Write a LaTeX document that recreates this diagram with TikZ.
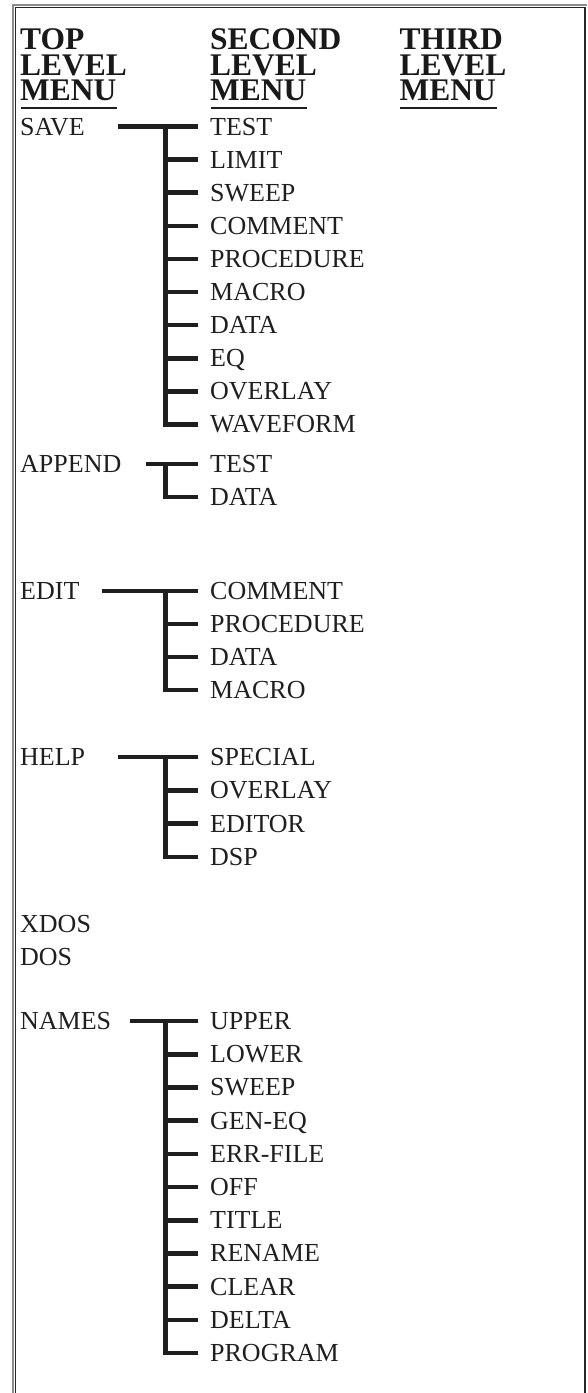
\documentclass[tikz,border=0pt]{standalone}
\usepackage{fontspec}
\setmainfont{Liberation Serif}
\begin{document}
\begin{tikzpicture}[x=1pt,y=-1pt,
  conn/.style={line width=4.6pt, draw=black!88, line cap=butt, line join=miter},
  lbl/.style={anchor=west, inner sep=0pt, text height=17pt, text depth=0pt, font=\fontsize{26pt}{30pt}\selectfont, text=black!88},
  hdr/.style={anchor=base west, inner sep=0pt, text height=20.5pt, text depth=0pt, font=\fontsize{31.5pt}{32pt}\selectfont\bfseries, text=black!90},
  hrule/.style={line width=1.8pt, draw=black!88},
  outerframe/.style={line width=2pt, draw=black!45},
  innerframe/.style={line width=1.2pt, draw=black!85}]
\useasboundingbox (0,0) rectangle (587,1393);
% frame
\draw[outerframe] (13,1393) -- (13,4.6) -- (587,4.6);
\draw[innerframe] (15.6,1393) -- (15.6,7.2) -- (584.9,7.2) -- (584.9,1393);
% headers
\foreach \x/\w/\n in {20/TOP/h1, 210/SECOND/h2, 399.5/THIRD/h3} {
  \node[hdr] (\n a) at (\x,49) {\w};
  \node[hdr] (\n b) at (\x,75) {LEVEL};
  \node[hdr] (\n c) at (\x,100.5) {MENU};
}
\draw[hrule] (20.5,108) -- (117,108);
\draw[hrule] (210.5,108) -- (307,108);
\draw[hrule] (400,108) -- (496.5,108);
% helper coordinates
\coordinate (bx) at (165.5,0);
\coordinate (tx) at (198,0);
% top level
\node[lbl] (sv) at (20,126.5) {SAVE};
\node[lbl] (ap) at (20,464) {APPEND};
\node[lbl] (ed) at (20,591) {EDIT};
\node[lbl] (hp) at (20,757) {HELP};
\node[lbl] (xd) at (20,923.5) {XDOS};
\node[lbl] (ds) at (20,956.5) {DOS};
\node[lbl] (nm) at (20,1021) {NAMES};
\coordinate (ssv) at (118,126.5);
\coordinate (sap) at (146,464);
\coordinate (sed) at (102,591);
\coordinate (shp) at (118,757);
\coordinate (snm) at (130,1021);
% SAVE group
\foreach \t [count=\i] in {TEST,LIMIT,SWEEP,COMMENT,PROCEDURE,MACRO,DATA,EQ,OVERLAY,WAVEFORM}
  \node[lbl] (a\i) at (210,{126.5+33.1*(\i-1)}) {\t};
\draw[conn] (ssv) -- (a1.west -| tx);
\draw[conn] (a1.west -| bx) |- (a10.west -| tx);
\foreach \i in {2,...,9} \draw[conn] (a\i.west -| bx) -- (a\i.west -| tx);
% APPEND group
\node[lbl] (b1) at (210,464) {TEST};
\node[lbl] (b2) at (210,497) {DATA};
\draw[conn] (sap) -- (b1.west -| tx);
\draw[conn] (b1.west -| bx) |- (b2.west -| tx);
% EDIT group
\foreach \t [count=\i] in {COMMENT,PROCEDURE,DATA,MACRO}
  \node[lbl] (c\i) at (210,{591+33*(\i-1)}) {\t};
\draw[conn] (sed) -- (c1.west -| tx);
\draw[conn] (c1.west -| bx) |- (c4.west -| tx);
\foreach \i in {2,3} \draw[conn] (c\i.west -| bx) -- (c\i.west -| tx);
% HELP group
\foreach \t [count=\i] in {SPECIAL,OVERLAY,EDITOR,DSP}
  \node[lbl] (d\i) at (210,{757+33.3*(\i-1)}) {\t};
\draw[conn] (shp) -- (d1.west -| tx);
\draw[conn] (d1.west -| bx) |- (d4.west -| tx);
\foreach \i in {2,3} \draw[conn] (d\i.west -| bx) -- (d\i.west -| tx);
% NAMES group
\foreach \t [count=\i] in {UPPER,LOWER,SWEEP,GEN-EQ,ERR-FILE,OFF,TITLE,RENAME,CLEAR,DELTA,PROGRAM}
  \node[lbl] (e\i) at (210,{1021+33.2*(\i-1)}) {\t};
\draw[conn] (snm) -- (e1.west -| tx);
\draw[conn] (e1.west -| bx) |- (e11.west -| tx);
\foreach \i in {2,...,10} \draw[conn] (e\i.west -| bx) -- (e\i.west -| tx);
\end{tikzpicture}
\end{document}
